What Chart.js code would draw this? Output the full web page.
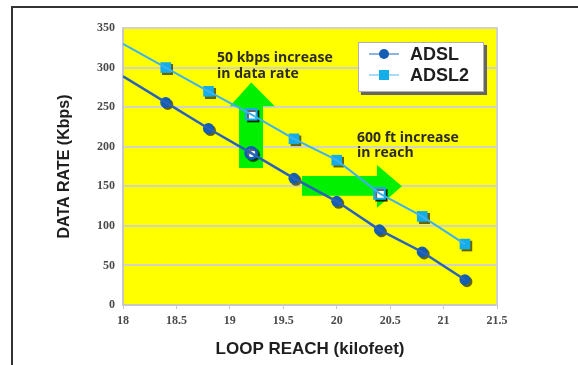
<!DOCTYPE html>
<html>
<head>
<meta charset="utf-8">
<script src="https://cdn.jsdelivr.net/npm/chart.js@4/dist/chart.umd.min.js"></script>
<style>
  html, body { margin: 0; padding: 0; background: #fff; }
  #wrap { width: 578px; height: 365px; position: relative; }
</style>
</head>
<body>
<div id="wrap"><canvas id="myChart" width="578" height="365"></canvas></div>
<script>
// loop reach in kilofeet
var reach = [18.4, 18.8, 19.2, 19.6, 20.0, 20.4, 20.8, 21.2];
// data rate in kbps
var adsl  = [256, 223, 192, 160, 131, 95, 67, 32];
var adsl2 = [300, 270, 241, 210, 183, 141, 112, 77];
// where the drawn lines start at the left edge of the plot
var lineStartReach = 18;
var adslLineStart = 289;
var adsl2LineStart = 330;

var seriesNames = ['ADSL', 'ADSL2'];
var yTicks = [0, 50, 100, 150, 200, 250, 300, 350];
var xTicks = [18, 18.5, 19, 19.5, 20, 20.5, 21, 21.5];

// highlighted (hollow) points
var adslHollow = [19.2];
var adsl2Hollow = [19.2, 20.4];

function pts(xs, ys) {
    return xs.map(function (x, i) { return {x: x, y: ys[i]}; });
}
function linePts(x0, y0, xs, ys) {
    return [{x: x0, y: y0}].concat(pts(xs, ys));
}

var col = {
    adslLine: '#2a62b8', adslMark: '#135eb2',
    adsl2Line: '#3cb2f0', adsl2Mark: '#13aee9',
    green: '#00f000'
};

// background, frame and plot border
var framePlugin = {
    id: 'frame',
    beforeDraw: function (chart) {
        var c = chart.ctx, a = chart.chartArea;
        c.save();
        c.fillStyle = '#fff';
        c.fillRect(0, 0, chart.width, chart.height);
        c.strokeStyle = '#333';
        c.lineWidth = 2;
        c.beginPath();
        c.moveTo(12, chart.height);
        c.lineTo(12, 7);
        c.lineTo(chart.width, 7);
        c.stroke();
        c.fillStyle = '#ffff00';
        c.fillRect(a.left, a.top, a.right - a.left, a.bottom - a.top);
        c.restore();
    },
    beforeDatasetsDraw: function (chart) {
        var c = chart.ctx, a = chart.chartArea;
        var xs = chart.scales.x, ys = chart.scales.y;
        c.save();
        c.strokeStyle = '#d2d2c8';
        c.lineWidth = 2;
        c.beginPath();
        c.moveTo(a.left, a.top);
        c.lineTo(a.right, a.top);
        c.lineTo(a.right, a.bottom);
        c.stroke();

        // green arrows (data coordinates)
        c.fillStyle = col.green;
        var up = [[19.086, 173], [19.31, 173], [19.31, 251], [19.42, 251], [19.2, 281],
                  [19.0, 251], [19.086, 251]];
        var right = [[19.675, 138], [20.377, 138], [20.377, 123], [20.61, 150], [20.377, 177],
                     [20.377, 163], [19.675, 163]];
        [up, right].forEach(function (poly) {
            c.beginPath();
            poly.forEach(function (p, i) {
                var px = xs.getPixelForValue(p[0]), py = ys.getPixelForValue(p[1]);
                if (i === 0) c.moveTo(px, py); else c.lineTo(px, py);
            });
            c.closePath();
            c.fill();
        });
        c.restore();
    },
    beforeDatasetDraw: function (chart, args) {
        if (chart.data.datasets[args.index].showLine === false) {
            var c = chart.ctx;
            c.save();
            c.shadowColor = 'rgba(0,0,0,0.6)';
            c.shadowOffsetX = 2;
            c.shadowOffsetY = 2;
            c.shadowBlur = 0.5;
        }
    },
    afterDatasetDraw: function (chart, args) {
        if (chart.data.datasets[args.index].showLine === false) {
            chart.ctx.restore();
        }
    },
    afterDraw: function (chart) {
        var c = chart.ctx;
        var xs = chart.scales.x, ys = chart.scales.y;
        c.save();
        // notes
        c.fillStyle = '#2b2b2b';
        c.font = 'bold 14px "Open Sans"';
        c.textBaseline = 'alphabetic';
        c.textAlign = 'left';
        c.fillText('50 kbps increase', xs.getPixelForValue(18.88), ys.getPixelForValue(307));
        c.fillText('in data rate', xs.getPixelForValue(18.88), ys.getPixelForValue(287));
        c.fillText('600 ft increase', xs.getPixelForValue(20.19), ys.getPixelForValue(206));
        c.fillText('in reach', xs.getPixelForValue(20.19), ys.getPixelForValue(187));

        // legend box
        var bx = 358, by = 42, bw = 126, bh = 50;
        c.fillStyle = '#666';
        c.fillRect(bx + 3, by + 3, bw, bh);
        c.fillStyle = '#fff';
        c.fillRect(bx, by, bw, bh);
        c.strokeStyle = '#b0b0b0';
        c.lineWidth = 1;
        c.strokeRect(bx + 0.5, by + 0.5, bw - 1, bh - 1);
        var rows = [
            {name: seriesNames[0], y: 54, line: '#8fb3e0', mark: col.adslMark, shape: 'circle'},
            {name: seriesNames[1], y: 75, line: '#a6dcf6', mark: col.adsl2Mark, shape: 'rect'}
        ];
        rows.forEach(function (r) {
            c.strokeStyle = r.line;
            c.lineWidth = 2;
            c.beginPath();
            c.moveTo(369, r.y);
            c.lineTo(399, r.y);
            c.stroke();
            c.fillStyle = r.mark;
            if (r.shape === 'circle') {
                c.beginPath();
                c.arc(384, r.y, 5, 0, Math.PI * 2);
                c.fill();
            } else {
                c.fillRect(379, r.y - 5, 10, 10);
            }
            c.fillStyle = '#1e1e1e';
            c.font = 'bold 18px "Liberation Sans"';
            c.textBaseline = 'middle';
            c.fillText(r.name, 410, r.y + 1);
        });
        c.restore();
    }
};

function isHollow(list, ctx) {
    var p = ctx.raw;
    return !!p && list.indexOf(p.x) >= 0;
}

var ctx = document.getElementById('myChart').getContext('2d');
var myChart = new Chart(ctx, {
    type: 'line',
    data: {
        datasets: [
            {
                label: seriesNames[1] + ' line',
                data: linePts(lineStartReach, adsl2LineStart, reach, adsl2),
                borderColor: col.adsl2Line,
                borderWidth: 2,
                pointRadius: 0,
                fill: false
            },
            {
                label: seriesNames[0] + ' line',
                data: linePts(lineStartReach, adslLineStart, reach, adsl),
                borderColor: col.adslLine,
                borderWidth: 2.5,
                pointRadius: 0,
                fill: false
            },
            {
                label: seriesNames[1],
                data: pts(reach, adsl2),
                showLine: false,
                pointStyle: 'rect',
                pointRadius: 7.5,
                pointBackgroundColor: function (c) { return isHollow(adsl2Hollow, c) ? '#ffffff' : col.adsl2Mark; },
                pointBorderColor: col.adsl2Mark,
                pointBorderWidth: function (c) { return isHollow(adsl2Hollow, c) ? 2 : 0; }
            },
            {
                label: seriesNames[0],
                data: pts(reach, adsl),
                showLine: false,
                pointStyle: 'circle',
                pointRadius: 5.5,
                pointBackgroundColor: function (c) { return isHollow(adslHollow, c) ? '#ffffff' : col.adslMark; },
                pointBorderColor: col.adslMark,
                pointBorderWidth: function (c) { return isHollow(adslHollow, c) ? 3 : 0; }
            }
        ]
    },
    options: {
        responsive: false,
        animation: false,
        layout: { padding: { left: 0, top: 28, right: 81, bottom: 0 } },
        plugins: {
            legend: { display: false },
            tooltip: { enabled: false }
        },
        scales: {
            x: {
                type: 'linear',
                min: xTicks[0],
                max: xTicks[xTicks.length - 1],
                afterBuildTicks: function (s) { s.ticks = xTicks.map(function (v) { return {value: v}; }); },
                afterFit: function (s) { s.height = 60; },
                grid: { drawOnChartArea: false, drawTicks: true, tickLength: 4, color: '#c8c8c8' },
                border: { color: '#c8c8c8', width: 2 },
                ticks: {
                    padding: 5,
                    color: '#4a4a4a',
                    font: { family: '"Liberation Serif"', size: 12, weight: 'bold' },
                    callback: function (v) { return String(v); }
                },
                title: {
                    display: true,
                    text: 'LOOP REACH (kilofeet)',
                    color: '#1e1e1e',
                    font: { family: '"Liberation Sans"', size: 17, weight: 'bold' },
                    padding: { top: 0, bottom: 5 }
                }
            },
            y: {
                min: yTicks[0],
                max: yTicks[yTicks.length - 1],
                afterBuildTicks: function (s) { s.ticks = yTicks.map(function (v) { return {value: v}; }); },
                afterFit: function (s) { s.width = 123; },
                grid: { color: '#d2d2c8', lineWidth: 2, drawTicks: false },
                border: { color: '#c8c8c8', width: 2 },
                ticks: {
                    padding: 8,
                    color: '#4a4a4a',
                    font: { family: '"Liberation Serif"', size: 12, weight: 'bold' }
                },
                title: {
                    display: true,
                    text: 'DATA RATE (Kbps)',
                    color: '#1e1e1e',
                    font: { family: '"Liberation Sans"', size: 16, weight: 'bold' },
                    padding: { top: 55, bottom: 0 }
                }
            }
        }
    },
    plugins: [framePlugin]
});
</script>
</body>
</html>
